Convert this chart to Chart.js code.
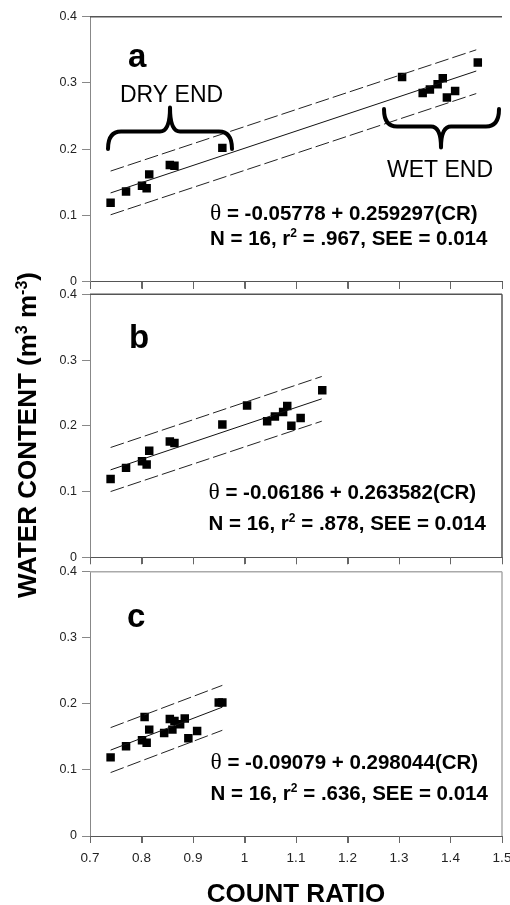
<!DOCTYPE html>
<html><head><meta charset="utf-8">
<script src="https://cdn.jsdelivr.net/npm/chart.js@4.4.1/dist/chart.umd.min.js"></script>
<style>
html,body{margin:0;padding:0;background:#fff;overflow:hidden;width:510px;height:905px;position:relative;}
canvas{position:absolute;left:0;}
#ytitle{position:absolute;left:-173px;top:420px;width:400px;height:30px;line-height:30px;text-align:center;
 font:bold 26px "Liberation Sans",Arial,sans-serif;transform:rotate(-90deg);color:#000;white-space:nowrap;}
#ytitle sup{font-size:16px;line-height:0;vertical-align:9px;}
</style></head>
<body>
<canvas id="ca" width="520" height="290" style="top:0px"></canvas>
<canvas id="cb" width="520" height="290" style="top:278px"></canvas>
<canvas id="cc" width="520" height="360" style="top:555px"></canvas>
<div id="ytitle">WATER CONTENT (m<sup>3</sup> m<sup>-3</sup>)</div>
<script>
// ---- data ----
const xTickValues = [0.7, 0.8, 0.9, 1.0, 1.1, 1.2, 1.3, 1.4, 1.5];
const xTickLabels = ['0.7', '0.8', '0.9', '1', '1.1', '1.2', '1.3', '1.4', '1.5'];
const yTickValues = [0, 0.1, 0.2, 0.3, 0.4];
const yTickLabels = ['0', '0.1', '0.2', '0.3', '0.4'];

// Panel a
const countRatioA = [0.740, 0.770, 0.801, 0.810, 0.815, 0.855, 0.864, 0.957, 1.306, 1.346, 1.360, 1.375, 1.385, 1.393, 1.409, 1.453];
const waterA      = [0.119, 0.136, 0.145, 0.141, 0.162, 0.176, 0.175, 0.202, 0.309, 0.285, 0.290, 0.298, 0.307, 0.278, 0.288, 0.331];
const lineXA = [0.74, 1.45];
const fitA   = [0.134, 0.318];
const upperA = [0.167, 0.350];
const lowerA = [0.101, 0.284];

// Panel b
const countRatioB = [0.740, 0.770, 0.801, 0.810, 0.815, 0.855, 0.864, 0.957, 1.005, 1.044, 1.059, 1.075, 1.083, 1.091, 1.109, 1.151];
const waterB      = [0.119, 0.136, 0.146, 0.141, 0.162, 0.176, 0.174, 0.202, 0.231, 0.207, 0.214, 0.221, 0.230, 0.200, 0.212, 0.254];
const lineXB = [0.74, 1.15];
const fitB   = [0.133, 0.241];
const upperB = [0.167, 0.275];
const lowerB = [0.100, 0.207];

// Panel c
const countRatioC = [0.740, 0.770, 0.801, 0.806, 0.810, 0.815, 0.844, 0.855, 0.860, 0.864, 0.875, 0.884, 0.891, 0.908, 0.950, 0.957];
const waterC      = [0.119, 0.136, 0.145, 0.180, 0.141, 0.161, 0.156, 0.177, 0.161, 0.174, 0.169, 0.178, 0.148, 0.159, 0.202, 0.202];
const lineXC = [0.74, 0.957];
const fitC   = [0.130, 0.195];
const upperC = [0.164, 0.228];
const lowerC = [0.096, 0.160];

const panelLetters = ['a', 'b', 'c'];
const equations = ['θ = -0.05778 + 0.259297(CR)', 'θ = -0.06186 + 0.263582(CR)', 'θ = -0.09079 + 0.298044(CR)'];
const statsText = ['N = 16, r² = .967, SEE = 0.014', 'N = 16, r² = .878, SEE = 0.014', 'N = 16, r² = .636, SEE = 0.014'];
const endLabels = ['DRY END', 'WET END'];
const xTitle = 'COUNT RATIO';

// ---- drawing ----
const SANS = '"Liberation Sans", Arial, Helvetica, sans-serif';
const SERIF = '"Liberation Serif", "Times New Roman", serif';

function drawBrace(ctx, x1, x2, xm, yEnd, yBar, yTip, r1, r2) {
  ctx.beginPath();
  ctx.moveTo(x1, yEnd);
  ctx.quadraticCurveTo(x1, yBar, x1 + r1, yBar);
  ctx.lineTo(xm - r2, yBar);
  ctx.quadraticCurveTo(xm, yBar, xm, yTip);
  ctx.moveTo(xm, yTip);
  ctx.quadraticCurveTo(xm, yBar, xm + r2, yBar);
  ctx.lineTo(x2 - r1, yBar);
  ctx.quadraticCurveTo(x2, yBar, x2, yEnd);
  ctx.stroke();
}

function drawEquation(ctx, x, y, text, size) {
  ctx.textBaseline = 'alphabetic';
  ctx.textAlign = 'left';
  ctx.font = (size + 3) + 'px ' + SERIF;
  const th = text[0];
  ctx.fillText(th, x, y);
  let cx = x + ctx.measureText(th).width;
  ctx.font = 'bold ' + size + 'px ' + SANS;
  ctx.fillText(text.slice(1), cx, y);
}

function drawStats(ctx, x, y, text, size) {
  ctx.textBaseline = 'alphabetic';
  ctx.textAlign = 'left';
  const parts = text.split('²');
  ctx.font = 'bold ' + size + 'px ' + SANS;
  ctx.fillText(parts[0], x, y);
  let cx = x + ctx.measureText(parts[0]).width;
  ctx.font = 'bold ' + Math.round(size * 0.6) + 'px ' + SANS;
  ctx.fillText('2', cx, y - size * 0.42);
  cx += ctx.measureText('2').width;
  ctx.font = 'bold ' + size + 'px ' + SANS;
  ctx.fillText(parts[1], cx, y);
}

const decoConfig = {
  ca: {top: 0, frameTop: '#555', frameRight: null, letter: 0, lx: 128, ly: 66.7,
       eq: 0, ex: 210, ey1: 220.3, ey2: 245.3, ends: true},
  cb: {top: 278, frameTop: '#555', frameRight: '#555', letter: 1, lx: 129, ly: 348.3,
       eq: 1, ex: 208.5, ey1: 498.7, ey2: 530.3, ends: false},
  cc: {top: 555, frameTop: '#aaa', frameRight: '#aaa', letter: 2, lx: 127, ly: 626.7,
       eq: 2, ex: 210.5, ey1: 768.7, ey2: 800.3, ends: false}
};

const decoPlugin = {
  id: 'deco',
  afterDraw(chart) {
    const o = decoConfig[chart.canvas.id];
    if (!o) return;
    const ctx = chart.ctx, ca = chart.chartArea, T = o.top;
    ctx.save();
    // x-axis tick marks, placed through the library's x scale
    const xs = chart.scales.x;
    ctx.strokeStyle = '#666';
    ctx.lineWidth = 1;
    ctx.beginPath();
    xTickValues.forEach(v => {
      const px = Math.round(xs.getPixelForValue(v)) + 0.5;
      ctx.moveTo(px, Math.round(ca.bottom));
      ctx.lineTo(px, Math.round(ca.bottom) + 7);
    });
    ctx.stroke();
    ctx.lineWidth = 1.5;
    if (o.frameTop) {
      ctx.strokeStyle = o.frameTop;
      ctx.beginPath(); ctx.moveTo(ca.left, ca.top); ctx.lineTo(ca.right, ca.top); ctx.stroke();
    }
    if (o.frameRight) {
      ctx.strokeStyle = o.frameRight;
      ctx.beginPath(); ctx.moveTo(ca.right, ca.top); ctx.lineTo(ca.right, ca.bottom); ctx.stroke();
    }
    ctx.fillStyle = '#000';
    ctx.textAlign = 'left';
    ctx.textBaseline = 'alphabetic';
    ctx.font = 'bold 33px ' + SANS;
    ctx.fillText(panelLetters[o.letter], o.lx, o.ly - T);
    drawEquation(ctx, o.ex, o.ey1 - T, equations[o.eq], 20.5);
    drawStats(ctx, o.ex, o.ey2 - T, statsText[o.eq], 20.5);
    if (o.ends) {
      ctx.font = '23px ' + SANS;
      ctx.fillText(endLabels[0], 120, 101.7 - T);
      ctx.fillText(endLabels[1], 387, 176.7 - T);
      ctx.strokeStyle = '#000';
      ctx.lineWidth = 4;
      ctx.lineCap = 'round';
      drawBrace(ctx, 108, 232, 170, 149 - T, 131.5 - T, 107.5 - T, 13, 10);
      drawBrace(ctx, 384, 499, 441, 109 - T, 126.5 - T, 147.5 - T, 13, 10);
    }
    ctx.restore();
  }
};

function buildPanel(id, canvasTop, canvasH, areaTop, areaBottom, cr, wc, lx, fit, up, lo, isBottom) {
  const pts = cr.map((x, i) => ({x: x, y: wc[i]}));
  const line = arr => lx.map((x, i) => ({x: x, y: arr[i]}));
  new Chart(document.getElementById(id), {
    type: 'scatter',
    data: {datasets: [
      {data: line(up), showLine: true, borderColor: '#222', borderWidth: 1, borderDash: [14, 4], pointRadius: 0},
      {data: line(lo), showLine: true, borderColor: '#222', borderWidth: 1, borderDash: [14, 4], pointRadius: 0},
      {data: line(fit), showLine: true, borderColor: '#111', borderWidth: 1, pointRadius: 0},
      {data: pts, pointStyle: 'rect', pointRadius: 6, backgroundColor: '#000', borderColor: '#000', borderWidth: 0}
    ]},
    options: {
      responsive: false, animation: false, events: [],
      layout: {padding: {top: areaTop - canvasTop, right: 18, left: 0, bottom: 0}},
      plugins: {legend: {display: false}, tooltip: {enabled: false}},
      scales: {
        x: {
          type: 'linear', min: 0.7, max: 1.5,
          afterBuildTicks: s => { s.ticks = xTickValues.map(v => ({value: v})); },
          afterFit: s => { s.height = canvasH - (areaBottom - canvasTop); },
          grid: {display: true, drawOnChartArea: false, drawTicks: true, tickLength: 7,
                 color: '#666', tickColor: '#666', tickWidth: 1},
          border: {display: true, color: '#555', width: 1},
          ticks: {display: true, padding: 7, color: '#222', font: {family: SANS, size: 13.5},
                  maxRotation: 0, autoSkip: false,
                  callback: (v, i) => (isBottom ? xTickLabels[i] : '')},
          title: {display: isBottom, text: xTitle, color: '#000',
                  font: {family: SANS, size: 26, weight: 'bold'}, padding: {top: 0, bottom: 5}}
        },
        y: {
          type: 'linear', min: 0, max: 0.4,
          afterBuildTicks: s => { s.ticks = yTickValues.map(v => ({value: v})); },
          afterFit: s => { s.width = 90; s.paddingTop = 0; s.paddingBottom = 0; },
          grid: {drawOnChartArea: false, drawTicks: true, tickLength: 8, color: '#888'},
          border: {color: '#888', width: 1},
          ticks: {padding: 5, color: '#222', font: {family: SANS, size: 12.5},
                  callback: (v, i) => yTickLabels[i]}
        }
      }
    },
    plugins: [decoPlugin]
  });
}

buildPanel('ca', 0, 290, 16.7, 281.7, countRatioA, waterA, lineXA, fitA, upperA, lowerA, false);
buildPanel('cb', 278, 290, 294.3, 557.3, countRatioB, waterB, lineXB, fitB, upperB, lowerB, false);
buildPanel('cc', 555, 360, 571.7, 836, countRatioC, waterC, lineXC, fitC, upperC, lowerC, true);
</script>
</body></html>
